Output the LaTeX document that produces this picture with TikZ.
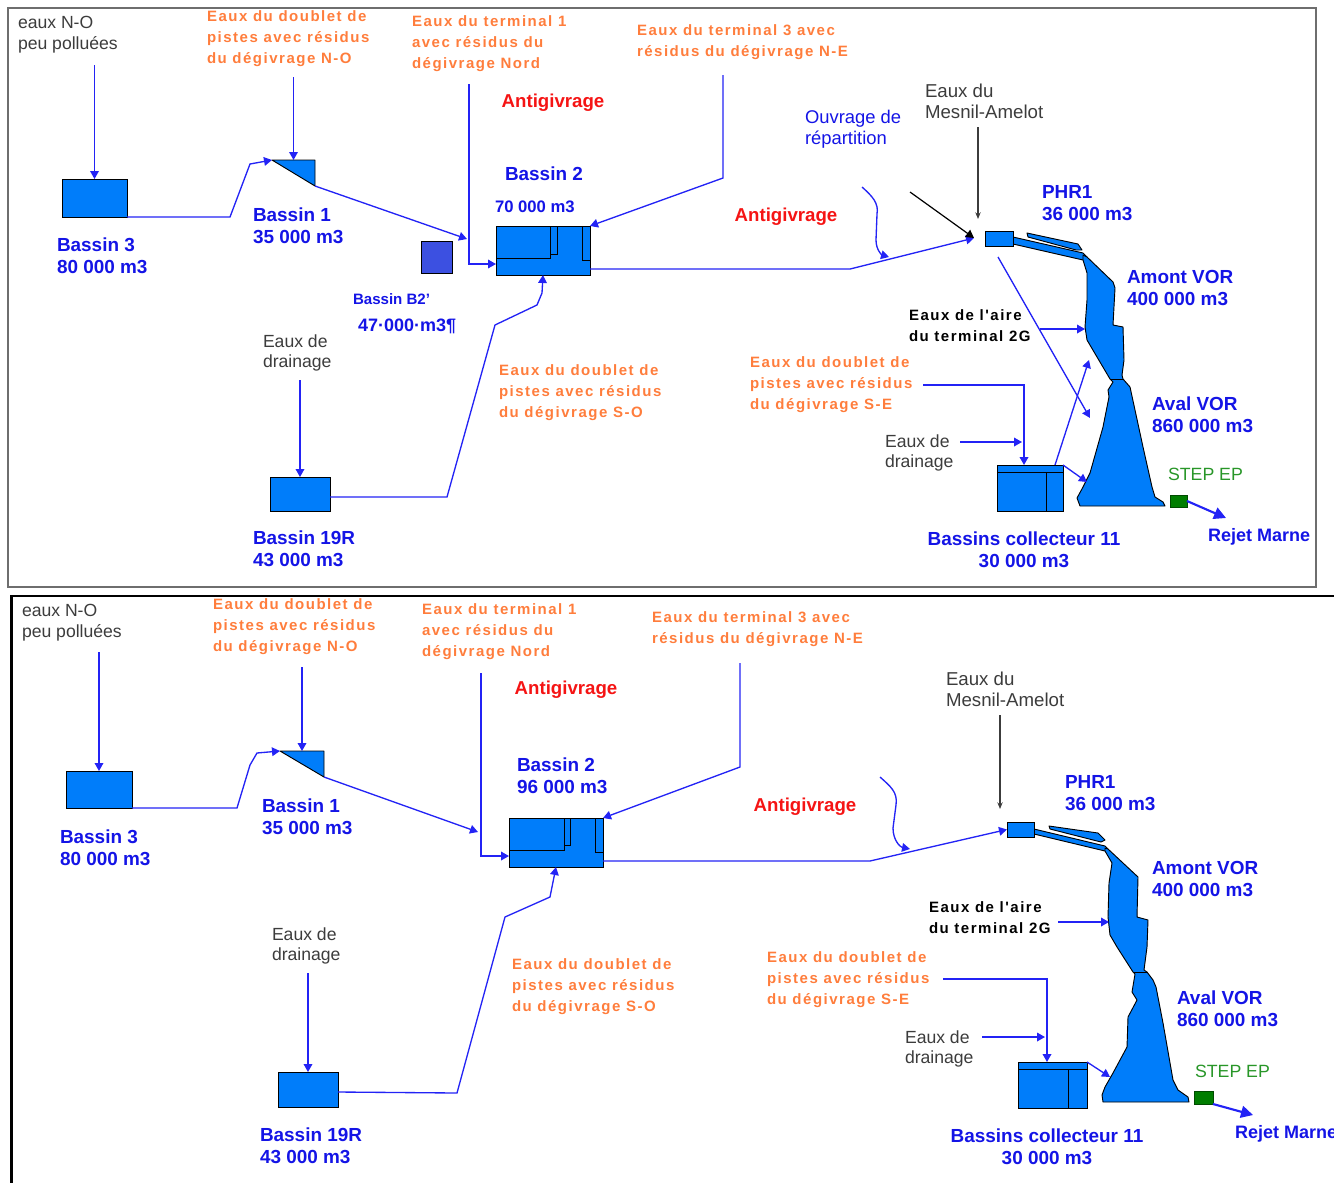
\documentclass[tikz,border=0pt]{standalone}
\usepackage{fontspec}
\setmainfont{Liberation Sans}
\newfontfamily\spacedfont[LetterSpace=10]{Liberation Sans}
\usetikzlibrary{arrows.meta}
\newdimen\pxu \pxu=0.75pt
\definecolor{bblue}{RGB}{0,125,250}
\definecolor{b2pblue}{RGB}{60,80,225}
\definecolor{lblue}{RGB}{35,35,245}
\definecolor{tblue}{RGB}{20,20,230}
\definecolor{orng}{RGB}{255,125,60}
\definecolor{rred}{RGB}{245,20,20}
\definecolor{sgreen}{RGB}{0,125,0}
\definecolor{tgreen}{RGB}{40,150,40}
\definecolor{tgray}{RGB}{60,60,60}
\definecolor{fgray}{RGB}{110,110,110}
\tikzset{
  basin/.style={draw=black, line width=0.7pt, fill=bblue, inner sep=0pt, outer sep=0pt, anchor=north west},
  ghost/.style={inner sep=0pt, outer sep=0pt, anchor=north west},
  tip/.style={-{Triangle[length=6pt,width=6.5pt]}},
  flow/.style={draw=lblue, line width=1pt, tip},
  lake/.style={fill=bblue, draw=black, line width=0.7pt, line join=round},
  lbl/.style={inner sep=0pt, outer sep=0pt, anchor=west, align=left},
  bluelbl/.style={lbl, text=tblue, font=\bfseries\fontsize{14.2}{16.5}\selectfont},
  orlbl/.style={lbl, text=orng, font=\spacedfont\bfseries\fontsize{11.25}{15.75}\selectfont},
  blklbl/.style={lbl, text=black, font=\spacedfont\bfseries\fontsize{11.25}{15.75}\selectfont},
  graylbl/.style={lbl, text=tgray, font=\fontsize{13.2}{15.5}\selectfont},
  redlbl/.style={inner sep=0pt, text=rred, font=\bfseries\fontsize{14}{16}\selectfont},
}
\begin{document}
\begin{tikzpicture}[x=0.75pt,y=-0.75pt]
\useasboundingbox (0,0) rectangle (1334,1182);
% ================= frames =================
\draw[fgray, line width=1.5pt] (8,8) rectangle (1316,587);
\draw[black, line width=2pt] (11.5,1190) -- (11.5,596) -- (1345,596);

% ================= TOP PANEL =================
% basins
\node[basin, minimum width=65\pxu, minimum height=38\pxu] (b3t) at (62,179) {};
\node[ghost, minimum width=43\pxu, minimum height=26\pxu] (b1t) at (272,160) {};
\filldraw[lake] (b1t.north west) -- (b1t.north east) -- (b1t.south east) -- cycle;
\node[basin, fill=b2pblue, minimum width=31\pxu, minimum height=32\pxu] (b2pt) at (421,241) {};
\node[basin, minimum width=94\pxu, minimum height=49\pxu] (b2t) at (496,226) {};
\draw[black, line width=0.6pt] (496,226) rectangle (550,258);
\draw[black, line width=0.6pt] (557,226) -- (557,254) -- (550,254);
\draw[black, line width=0.6pt] (582,226) -- (582,260) -- (590,260);
\node[basin, minimum width=60\pxu, minimum height=34\pxu] (b19t) at (270,477) {};
\node[basin, minimum width=66\pxu, minimum height=46\pxu] (colt) at (997,465) {};
\draw[black, line width=0.6pt] (997,472) -- (1063,472) (1046,472) -- (1046,511);
% channel, sliver, lake
\filldraw[lake] (1013,237) -- (1083,253) -- (1087,257) -- (1083,260) -- (1013,244) -- cycle;
\filldraw[lake] (1027,233) -- (1078,244) -- (1082,250) -- (1076,250) -- (1028,237) -- cycle;
\filldraw[lake] (1083,255) -- (1087,257) -- (1113,282) -- (1115,288) -- (1113,325) -- (1123,327) -- (1124,360) -- (1122,375) -- (1123,379) -- (1130,387) -- (1143,447) -- (1152,487) -- (1155,497) -- (1163,502) -- (1165,506) -- (1080,506) -- (1077,498) -- (1083,487) -- (1090,473) -- (1103,427) -- (1107,407) -- (1109,397) -- (1108,390) -- (1113,382) -- (1110,379) -- (1097,357) -- (1087,340) -- (1085,327) -- (1087,300) -- (1087,273) -- (1083,260) -- cycle;
\draw[black, line width=0.7pt] (1110,379) -- (1123,379);
\node[basin, minimum width=28\pxu, minimum height=15\pxu] (phr1t) at (985,231) {};
\node[basin, fill=sgreen, draw=sgreen!60!black, minimum width=17\pxu, minimum height=12\pxu] (stept) at (1170,495) {};

% labels
\node[graylbl] (tNOt) at (18,35) {eaux N-O\\peu polluées};
\node[orlbl] (tONOt) at (207,38.5) {Eaux du doublet de\\pistes avec résidus\\du dégivrage N-O};
\node[bluelbl] (tB3t) at (57,256) {Bassin 3\\80 000 m3};
\node[bluelbl] (tB1t) at (253,226) {Bassin 1\\35 000 m3};
\node[lbl, text=tblue, font=\bfseries\fontsize{11.3}{13}\selectfont] (tB2pA) at (353,299) {Bassin B2'};
\node[lbl, text=tblue, font=\bfseries\fontsize{13.5}{15}\selectfont] (tB2pB) at (358,326) {47·000·m3¶};
\node[orlbl] (tT1t) at (412,44) {Eaux du terminal 1\\avec résidus du\\dégivrage Nord};
\node[redlbl] (tAnti1t) at (553,103) {Antigivrage};
\node[lbl, text=tblue, font=\bfseries\fontsize{14.2}{16.5}\selectfont] (tB2t) at (505,174) {Bassin 2};
\node[lbl, text=tblue, font=\bfseries\fontsize{12.5}{14}\selectfont] (tB2vt) at (495,207) {70 000 m3};
\node[orlbl] (tT3t) at (637,42) {Eaux du terminal 3 avec\\résidus du dégivrage N-E};
\node[lbl, text=tblue, font=\fontsize{13.8}{15.75}\selectfont] (tOuv) at (805,129.5) {Ouvrage de\\répartition};
\node[redlbl] (tAnti2t) at (786,217) {Antigivrage};
\node[graylbl, font=\fontsize{14}{15.75}\selectfont] (tMest) at (925,101.5) {Eaux du\\Mesnil-Amelot};
\node[bluelbl] (tPHRt) at (1042,203) {PHR1\\36 000 m3};
\node[bluelbl] (tAmt) at (1127,287.5) {Amont VOR\\400 000 m3};
\node[blklbl] (tT2Gt) at (909,325.5) {Eaux de l'aire\\du terminal 2G};
\node[bluelbl] (tAvt) at (1152,415) {Aval VOR\\860 000 m3};
\node[orlbl] (tSEt) at (750,385) {Eaux du doublet de\\pistes avec résidus\\du dégivrage S-E};
\node[graylbl] (tDrRt) at (885,453) {Eaux de\\drainage};
\node[lbl, text=tgreen, font=\fontsize{13.3}{15}\selectfont] (tStept) at (1168,474) {STEP EP};
\node[lbl, text=tblue, font=\bfseries\fontsize{13.5}{15}\selectfont] (tRejt) at (1208,537) {Rejet Marne};
\node[bluelbl, anchor=center, align=center] (tColt) at (1024,549.5) {Bassins collecteur 11\\30 000 m3};
\node[graylbl] (tDrLt) at (263,353) {Eaux de\\drainage};
\node[bluelbl] (tB19t) at (253,548.5) {Bassin 19R\\43 000 m3};
\node[orlbl] (tSOt) at (499,392.5) {Eaux du doublet de\\pistes avec résidus\\du dégivrage S-O};

% free ends
\coordinate (sNOt) at (94.5,65);
\coordinate (sB1t) at (293.5,77);
\coordinate (j1t) at (467,239);
\coordinate (sT1t) at (469,84);
\coordinate (sT3t) at (723,75);
\coordinate (ouvt) at (974,238);
\coordinate (sBlkt) at (910,192);
\coordinate (sMest) at (978,127);
\coordinate (eMest) at (978,219);
\coordinate (sOuvt) at (862,187);
\coordinate (eOuvt) at (889,257);
\coordinate (sT2Gt) at (1040,329);
\coordinate (eT2Gt) at (1085,329);
\coordinate (sDiagt) at (998,257);
\coordinate (eDiagt) at (1090,418);
\coordinate (eUpt) at (1089,360);
\coordinate (sSEt) at (923,385);
\coordinate (sDrRt) at (960,442);
\coordinate (eDrRt) at (1022,442);
\coordinate (eColt) at (1087,482);
\coordinate (eRejt) at (1226,518);
\coordinate (sDrLt) at (300,380);

% connectors
\draw[flow] (sNOt) -- (b3t.north);
\draw[flow] (b3t.south east) -- (230,217) -- (250,164) -- (b1t.north west);
\draw[flow] (sB1t) -- (b1t.north);
\draw[flow] (b1t.south east) -- (j1t);
\draw[flow] (sT1t) -- (469,264) -- (b2t.west |- 0,264);
\draw[flow] (sT3t) -- (723,178) -- (b2t.north east);
\draw[flow] (b2t.east |- 0,269) -- (850,269) -- (ouvt);
\draw[black, line width=0.9pt, tip] (sBlkt) -- (ouvt);
\draw[tgray, line width=0.8pt, -{Stealth[length=5pt,width=4pt]}] (sMest) -- (eMest);
\draw[flow] (sOuvt) .. controls (872,196) and (879,203) .. (877,214) -- (876,240) .. controls (876,250) and (882,255) .. (eOuvt);
\draw[flow] (sT2Gt) -- (eT2Gt);
\draw[flow] (sDiagt) -- (eDiagt);
\draw[flow] ([xshift=-6pt]colt.north east) -- (eUpt);
\draw[flow] (sSEt) -- (1024,385) -- (colt.north -| 1024,0);
\draw[flow] (sDrRt) -- (eDrRt);
\draw[flow] (colt.north east) -- (eColt);
\draw[lblue, line width=1.6pt, -{Triangle[length=9pt,width=9pt]}] (stept.east) -- (eRejt);
\draw[flow] (sDrLt) -- (b19t.north);
\draw[flow] (b19t.east |- 0,497) -- (447,497) -- (495,325) -- (537,305) -- (542,293) -- (b2t.south);

% ================= BOTTOM PANEL =================
\node[basin, minimum width=66\pxu, minimum height=37\pxu] (b3b) at (66,771) {};
\node[ghost, minimum width=44\pxu, minimum height=26\pxu] (b1b) at (280,751) {};
\filldraw[lake] (b1b.north west) -- (b1b.north east) -- (b1b.south east) -- cycle;
\node[basin, minimum width=94\pxu, minimum height=49\pxu] (b2b) at (509,818) {};
\draw[black, line width=0.6pt] (509,818) rectangle (564,850);
\draw[black, line width=0.6pt] (570,818) -- (570,845) -- (564,845);
\draw[black, line width=0.6pt] (595,818) -- (595,852) -- (603,852);
\node[basin, minimum width=60\pxu, minimum height=35\pxu] (b19b) at (278,1072) {};
\node[basin, minimum width=69\pxu, minimum height=46\pxu] (colb) at (1018,1062) {};
\draw[black, line width=0.6pt] (1018,1069) -- (1087,1069) (1068,1069) -- (1068,1108);
\filldraw[lake] (1034,829) -- (1105,846) -- (1108,849) -- (1105,851) -- (1034,834) -- cycle;
\filldraw[lake] (1049,826) -- (1098,833) -- (1105,840) -- (1101,842) -- (1050,829) -- cycle;
\filldraw[lake] (1105,848) -- (1108,849) -- (1138,877) -- (1137,917) -- (1148,920) -- (1147,947) -- (1144,970) -- (1147,972) -- (1153,980) -- (1156,987) -- (1163,1023) -- (1173,1080) -- (1178,1090) -- (1188,1097) -- (1189,1102) -- (1103,1102) -- (1102,1095) -- (1105,1087) -- (1113,1073) -- (1127,1047) -- (1128,1017) -- (1137,1000) -- (1132,992) -- (1135,974) -- (1133,972) -- (1117,947) -- (1110,935) -- (1108,917) -- (1109,883) -- (1112,863) -- (1105,851) -- cycle;
\draw[black, line width=0.7pt] (1133,972) -- (1147,972);
\node[basin, minimum width=27\pxu, minimum height=15\pxu] (phr1b) at (1007,822) {};
\node[basin, fill=sgreen, draw=sgreen!60!black, minimum width=19\pxu, minimum height=13\pxu] (stepb) at (1194,1091) {};

\node[graylbl] (tNOb) at (22,623) {eaux N-O\\peu polluées};
\node[orlbl] (tONOb) at (213,627) {Eaux du doublet de\\pistes avec résidus\\du dégivrage N-O};
\node[bluelbl] (tB3b) at (60,847.5) {Bassin 3\\80 000 m3};
\node[bluelbl] (tB1b) at (262,816.5) {Bassin 1\\35 000 m3};
\node[orlbl] (tT1b) at (422,631.5) {Eaux du terminal 1\\avec résidus du\\dégivrage Nord};
\node[redlbl] (tAnti1b) at (566,690) {Antigivrage};
\node[bluelbl] (tB2b) at (517,776) {Bassin 2\\96 000 m3};
\node[orlbl] (tT3b) at (652,629) {Eaux du terminal 3 avec\\résidus du dégivrage N-E};
\node[redlbl] (tAnti2b) at (805,807) {Antigivrage};
\node[graylbl, font=\fontsize{14}{15.75}\selectfont] (tMesb) at (946,689) {Eaux du\\Mesnil-Amelot};
\node[bluelbl] (tPHRb) at (1065,793) {PHR1\\36 000 m3};
\node[bluelbl] (tAmb) at (1152,879) {Amont VOR\\400 000 m3};
\node[blklbl] (tT2Gb) at (929,917.5) {Eaux de l'aire\\du terminal 2G};
\node[bluelbl] (tAvb) at (1177,1009) {Aval VOR\\860 000 m3};
\node[orlbl] (tSEb) at (767,979.5) {Eaux du doublet de\\pistes avec résidus\\du dégivrage S-E};
\node[graylbl] (tDrRb) at (905,1049) {Eaux de\\drainage};
\node[lbl, text=tgreen, font=\fontsize{13.3}{15}\selectfont] (tStepb) at (1195,1071) {STEP EP};
\node[lbl, text=tblue, font=\bfseries\fontsize{13.5}{15}\selectfont] (tRejb) at (1235,1134) {Rejet Marne};
\node[bluelbl, anchor=center, align=center] (tColb) at (1047,1147) {Bassins collecteur 11\\30 000 m3};
\node[graylbl] (tDrLb) at (272,946) {Eaux de\\drainage};
\node[bluelbl] (tB19b) at (260,1146) {Bassin 19R\\43 000 m3};
\node[orlbl] (tSOb) at (512,986.5) {Eaux du doublet de\\pistes avec résidus\\du dégivrage S-O};

\coordinate (sNOb) at (99,652);
\coordinate (sB1b) at (302,667);
\coordinate (j1b) at (478,832);
\coordinate (sT1b) at (481,673);
\coordinate (sT3b) at (740,663);
\coordinate (sOuvb) at (880,777);
\coordinate (eOuvb) at (910,849);
\coordinate (sMesb) at (1000,715);
\coordinate (eMesb) at (1000,809);
\coordinate (sT2Gb) at (1058,922);
\coordinate (eT2Gb) at (1109,922);
\coordinate (sSEb) at (943,979);
\coordinate (sDrRb) at (982,1037);
\coordinate (eDrRb) at (1045,1037);
\coordinate (eColb) at (1110,1077);
\coordinate (eRejb) at (1253,1115);
\coordinate (sDrLb) at (308,973);

\draw[flow] (sNOb) -- (b3b.north);
\draw[flow] (b3b.south east) -- (237,808) -- (250,765) -- (257,753) -- (b1b.north west);
\draw[flow] (sB1b) -- (b1b.north);
\draw[flow] (b1b.south east) -- (j1b);
\draw[flow] (sT1b) -- (481,856) -- (b2b.west |- 0,856);
\draw[flow] (sT3b) -- (740,767) -- (b2b.north east);
\draw[flow] (b2b.east |- 0,861) -- (870,861) -- (phr1b.west);
\draw[flow] (sOuvb) .. controls (890,786) and (898,792) .. (896,805) -- (893,828) .. controls (893,840) and (900,847) .. (eOuvb);
\draw[tgray, line width=0.8pt, -{Stealth[length=5pt,width=4pt]}] (sMesb) -- (eMesb);
\draw[flow] (sT2Gb) -- (eT2Gb);
\draw[flow] (sSEb) -- (1047,979) -- (colb.north -| 1047,0);
\draw[flow] (sDrRb) -- (eDrRb);
\draw[flow] (colb.north east) -- (eColb);
\draw[lblue, line width=1.6pt, -{Triangle[length=9pt,width=9pt]}] (stepb.south east) -- (eRejb);
\draw[flow] (sDrLb) -- (b19b.north);
\draw[flow] (b19b.east |- 0,1092) -- (457,1093) -- (505,917) -- (550,897) -- (b2b.south);
\end{tikzpicture}
\end{document}
